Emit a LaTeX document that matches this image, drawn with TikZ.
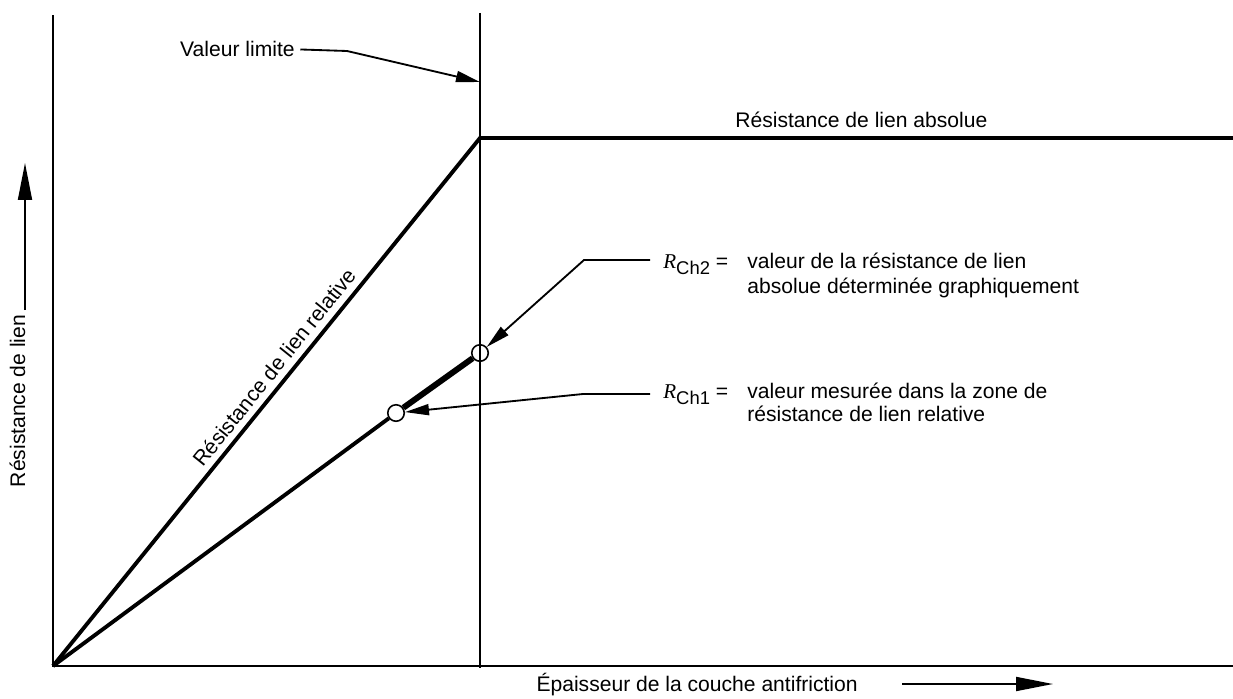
\documentclass[tikz,border=0pt]{standalone}
\usepackage{fontspec}
\setmainfont{Liberation Sans}
\newfontfamily\serifit{Liberation Serif}
\usetikzlibrary{arrows.meta}

\newcommand{\Rch}[1]{{\serifit\itshape R}\raisebox{-0.55ex}{\fontsize{10.5}{10.5}\selectfont Ch#1}}

\tikzset{axis line/.style={line width=1.4pt,line cap=rect},
limit line/.style={line width=0.7pt},
curve/.style={line width=2.2pt},
heavy curve/.style={line width=3.4pt},
callout/.style={line width=1.05pt,-{Triangle[length=0.48cm,width=0.22cm]}},
point mark/.style={circle,draw,fill=white,line width=0.9pt,minimum size=0.33cm,inner sep=0pt},
label text/.style={font=\fontsize{12}{14}\selectfont,inner sep=0pt},
axis arrow/.style={line width=1.05pt,-{Triangle[length=0.74cm,width=0.28cm]}}}

\begin{document}
\begin{tikzpicture}[x=0.02cm,y=-0.02cm]
\useasboundingbox (0,0) rectangle (1233,699);

%% Coordinates of the frame
\coordinate (o) at (53,666);
\coordinate (ytop) at (53,16);
\coordinate (xend) at (1233,666);
\coordinate (limtop) at (480,13);
\coordinate (limbot) at (480,668);
\coordinate (lim) at (480,138);
\coordinate (absend) at (1233,138);

%% measured points
\node [point mark] (c1) at (396,413) {};
\node [point mark] (c2) at (480,353) {};

%% axes and limit line
\draw [axis line] (ytop) -- (o) -- (xend);
\draw [limit line] (limtop) -- (limbot);

%% bond strength curves
\draw [curve,line join=miter] (o) -- (lim) -- (absend);
\draw [curve] (o) -- (c1);
\draw [heavy curve] (c1) -- (c2);

%% labels
\node [label text,anchor=base east] (vl) at (295,57) {Valeur limite};
\node [label text,anchor=base west] (abs) at (735,128) {Résistance de lien absolue};
\node [label text,anchor=base,rotate=51.2] (rel) at (280,372) {Résistance de lien relative};

\node [label text,anchor=base west] (ch2) at (663,268) {\Rch{2} =};
\node [label text,anchor=base west] (ch2a) at (747,268) {valeur de la résistance de lien};
\node [label text,anchor=base west] (ch2b) at (747,293) {absolue déterminée graphiquement};

\node [label text,anchor=base west] (ch1) at (663,398) {\Rch{1} =};
\node [label text,anchor=base west] (ch1a) at (747,398) {valeur mesurée dans la zone de};
\node [label text,anchor=base west] (ch1b) at (747,421) {résistance de lien relative};

\node [label text,anchor=base,rotate=90] (ylab) at (25,401) {Résistance de lien};
\node [label text,anchor=base east] (xlab) at (858,691) {Épaisseur de la couche antifriction};

%% callout arrows
\coordinate (vlk) at (347,51);
\coordinate (vltip) at (480,82);
\draw [callout] ([xshift=3pt]vl.east) -- (vlk) -- (vltip);

\coordinate (ch2s) at (650,260);
\coordinate (ch2k) at (584,260);
\draw [callout] (ch2s) -- (ch2k) -- (c2);

\coordinate (ch1s) at (650,394);
\coordinate (ch1k) at (583,394);
\draw [callout] (ch1s) -- (ch1k) -- (c1);

%% axis arrows
\coordinate (ya) at (25,310);
\coordinate (yb) at (25,163);
\draw [axis arrow] (ya) -- (yb);
\coordinate (xa) at (902,684);
\coordinate (xb) at (1053,684);
\draw [axis arrow] (xa) -- (xb);

\end{tikzpicture}
\end{document}
